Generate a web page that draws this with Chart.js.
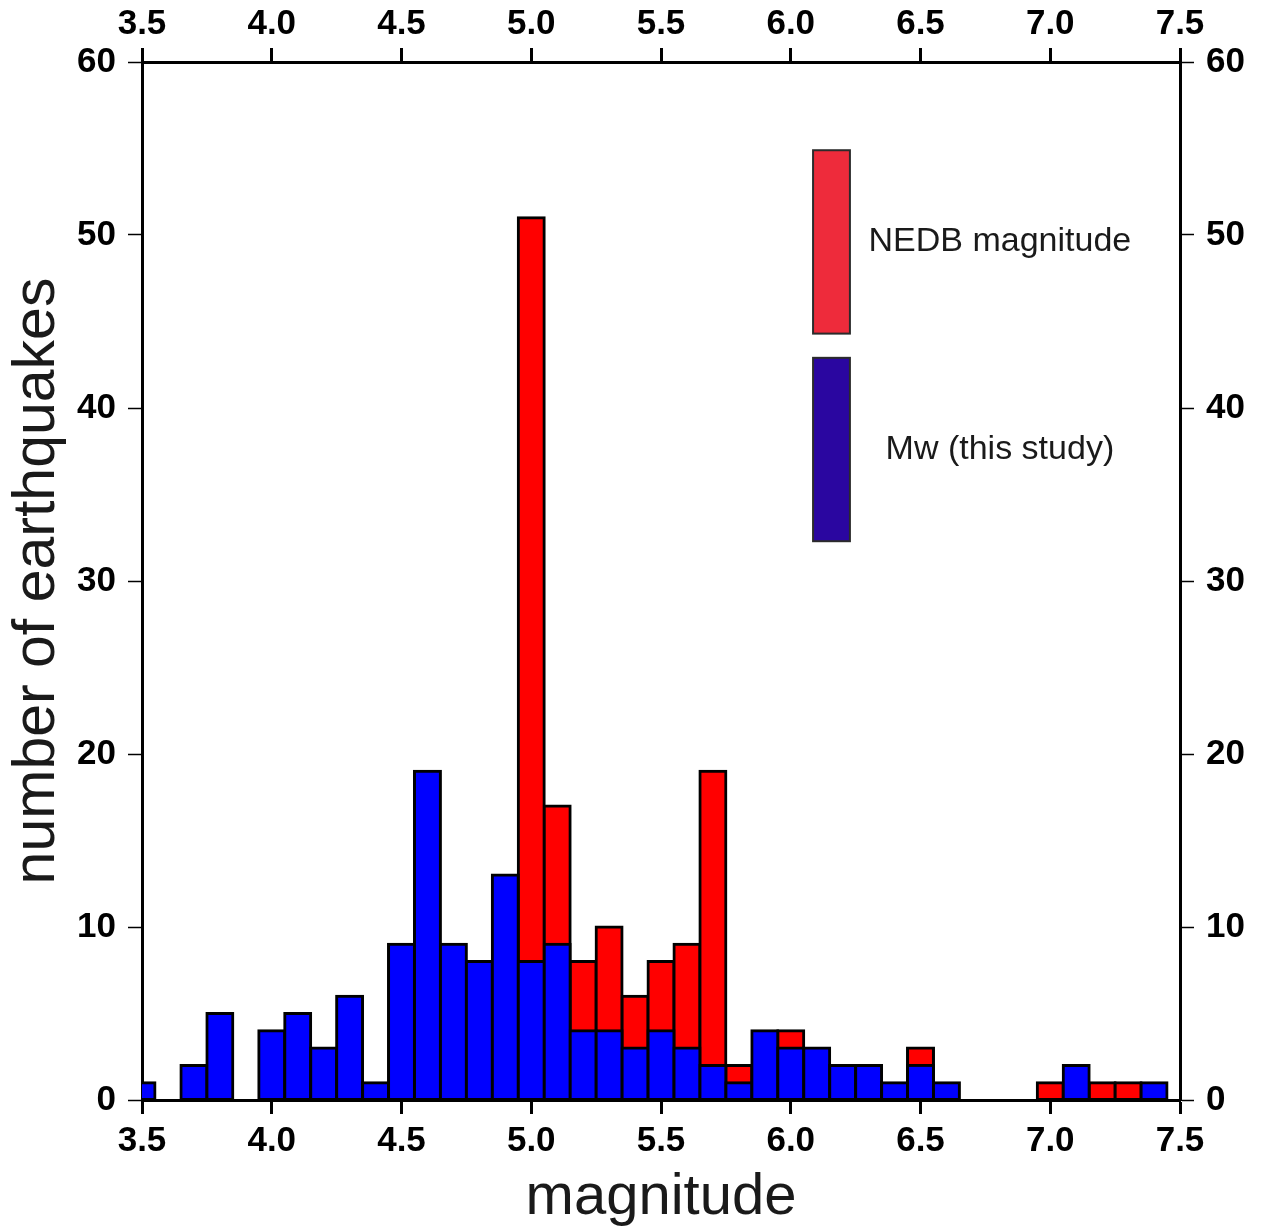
<!DOCTYPE html>
<html lang="en">
<head>
    <meta charset="UTF-8">
    <title>Magnitude histogram</title>
    <style>
        body {
            margin: 0;
            background: #fff;
        }
        #chartContainer {
            width: 1263px;
            height: 1228px;
        }
    </style>
    <script src="https://cdn.jsdelivr.net/npm/chart.js"></script>
</head>
<body>
    <div id="chartContainer">
        <canvas id="histChart"></canvas>
    </div>

    <script>
        // bin centres (magnitude, width 0.1)
        const bins = [3.5, 3.6, 3.7, 3.8, 3.9, 4.0, 4.1, 4.2, 4.3, 4.4,
                      4.5, 4.6, 4.7, 4.8, 4.9, 5.0, 5.1, 5.2, 5.3, 5.4,
                      5.5, 5.6, 5.7, 5.8, 5.9, 6.0, 6.1, 6.2, 6.3, 6.4,
                      6.5, 6.6, 6.7, 6.8, 6.9, 7.0, 7.1, 7.2, 7.3, 7.4];
        // counts, Mw (this study)
        const mwCounts = [1, 0, 2, 5, 0, 4, 5, 3, 6, 1,
                          9, 19, 9, 8, 13, 8, 9, 4, 4, 3,
                          4, 3, 2, 1, 4, 3, 3, 2, 2, 1,
                          2, 1, 0, 0, 0, 0, 2, 0, 0, 1];
        // counts, NEDB magnitude
        const nedbCounts = [0, 0, 0, 0, 0, 0, 0, 0, 0, 0,
                            0, 0, 0, 0, 0, 51, 17, 8, 10, 6,
                            8, 9, 19, 2, 0, 4, 0, 0, 0, 0,
                            3, 0, 0, 0, 0, 1, 0, 1, 1, 0];
        const xTicks = [3.5, 4.0, 4.5, 5.0, 5.5, 6.0, 6.5, 7.0, 7.5];
        const yTicks = [0, 10, 20, 30, 40, 50, 60];

        const fontFamily = '"Liberation Sans", Arial, Helvetica, sans-serif';

        function toPoints(counts) {
            return bins.map((b, i) => ({ x: b, y: counts[i] > 0 ? counts[i] : null }));
        }

        // legend boxes drawn inside the plot (data coords)
        const legendPlugin = {
            id: 'boxLegend',
            afterDatasetsDraw(chart) {
                const ctx = chart.ctx;
                const xs = chart.scales.x;
                const ys = chart.scales.y;
                const items = [
                    { label: 'NEDB magnitude', color: '#ee2b3b', top: 54.9, bottom: 44.3 },
                    { label: 'Mw (this study)', color: '#2a06a0', top: 42.9, bottom: 32.3 }
                ];
                const x0 = xs.getPixelForValue(6.086);
                const x1 = xs.getPixelForValue(6.228);
                const tx = xs.getPixelForValue(6.806);
                ctx.save();
                items.forEach(it => {
                    const y0 = ys.getPixelForValue(it.top);
                    const y1 = ys.getPixelForValue(it.bottom);
                    ctx.fillStyle = it.color;
                    ctx.fillRect(x0, y0, x1 - x0, y1 - y0);
                    ctx.strokeStyle = '#2b2b2b';
                    ctx.lineWidth = 2;
                    ctx.strokeRect(x0, y0, x1 - x0, y1 - y0);
                    ctx.fillStyle = '#1a1a1a';
                    ctx.font = '34px ' + fontFamily;
                    ctx.textAlign = 'center';
                    ctx.textBaseline = 'middle';
                    ctx.fillText(it.label, tx, (y0 + y1) / 2);
                });
                ctx.restore();
            }
        };

        function axisTicks(values) {
            return function (scale) {
                scale.ticks = values.map(v => ({ value: v }));
            };
        }

        const tickFont = { family: fontFamily, size: 35, weight: 'bold' };

        function xAxis(position, fitSize, withTitle) {
            return {
                type: 'linear',
                position: position,
                min: 3.5,
                max: 7.5,
                offset: false,
                afterBuildTicks: axisTicks(xTicks),
                afterFit(scale) { scale.height = fitSize; },
                ticks: {
                    color: '#000',
                    font: tickFont,
                    padding: position === 'top' ? 3 : 6,
                    maxRotation: 0,
                    autoSkip: false,
                    callback: v => v.toFixed(1)
                },
                grid: {
                    display: true,
                    offset: false,
                    drawOnChartArea: false,
                    drawTicks: true,
                    tickLength: 14,
                    tickWidth: 3,
                    tickColor: '#000'
                },
                border: { display: true, color: '#000', width: 3 },
                title: {
                    display: withTitle,
                    text: 'magnitude',
                    color: '#1a1a1a',
                    font: { family: fontFamily, size: 58, lineHeight: 1.05 },
                    padding: 0
                }
            };
        }

        function yAxis(position, fitSize, withTitle) {
            return {
                type: 'linear',
                position: position,
                min: 0,
                max: 60,
                stacked: false,
                afterBuildTicks: axisTicks(yTicks),
                afterFit(scale) { scale.width = fitSize; },
                ticks: {
                    color: '#000',
                    font: tickFont,
                    padding: 12,
                    autoSkip: false
                },
                grid: {
                    display: true,
                    drawOnChartArea: false,
                    drawTicks: true,
                    tickLength: 14,
                    tickWidth: 1.5,
                    tickColor: '#000'
                },
                border: { display: true, color: '#000', width: 3 },
                title: {
                    display: withTitle,
                    text: 'number of earthquakes',
                    color: '#1a1a1a',
                    font: { family: fontFamily, size: 59, lineHeight: 1.1 },
                    padding: { top: 5, bottom: 0 }
                }
            };
        }

        const barStyle = {
            borderColor: '#000',
            borderWidth: 3,
            inflateAmount: 1.5,
            borderSkipped: false,
            grouped: false,
            barPercentage: 1.0,
            categoryPercentage: 1.0,
            xAxisID: 'x',
            yAxisID: 'y'
        };

        const ctx = document.getElementById('histChart').getContext('2d');
        const histChart = new Chart(ctx, {
            type: 'bar',
            data: {
                datasets: [
                    Object.assign({ label: 'NEDB magnitude', data: toPoints(nedbCounts), backgroundColor: '#ff0000', order: 1 }, barStyle),
                    Object.assign({ label: 'Mw (this study)', data: toPoints(mwCounts), backgroundColor: '#0000ff', order: 0 }, barStyle)
                ]
            },
            options: {
                responsive: true,
                maintainAspectRatio: false,
                animation: false,
                layout: { padding: 0 },
                plugins: {
                    legend: { display: false },
                    tooltip: { enabled: false }
                },
                scales: {
                    x: xAxis('bottom', 128, true),
                    x2: xAxis('top', 62, false),
                    y: yAxis('left', 142, true),
                    y2: yAxis('right', 83, false)
                }
            },
            plugins: [legendPlugin]
        });
    </script>
</body>
</html>
